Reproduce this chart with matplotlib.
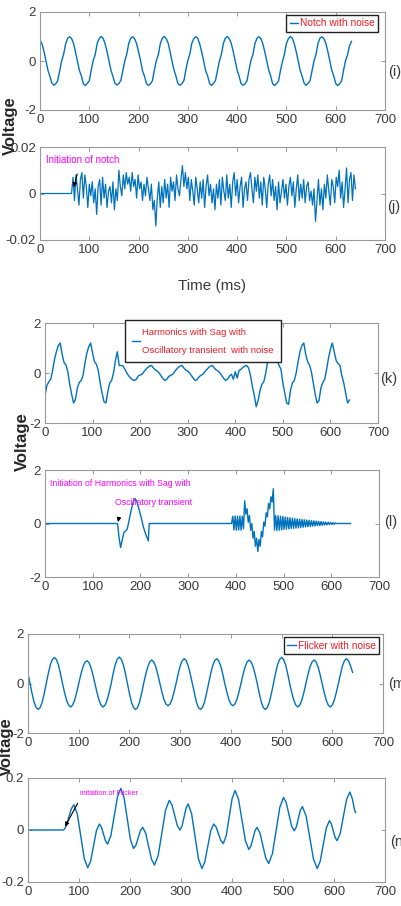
import matplotlib
matplotlib.use('Agg')
import matplotlib.pyplot as plt
import numpy as np

plt.rcParams['font.family'] = ['Liberation Sans Narrow', 'Liberation Sans', 'DejaVu Sans']

# ---- data ----
# (i) notch with noise, one sample every 4 ms from 0 ms
notch_v = [
    .85, .70, .40, .02, -.37, -.62, -.90, -.99, -.93, -.80, -.40, .01, .28, .70, .93, .99,
    .92, .72, .37, -.01, -.39, -.61, -.93, -1.0, -.91, -.81, -.37, .02, .26, .72, .91, 1.0,
    .93, .70, .39, .01, -.38, -.63, -.91, -.98, -.92, -.79, -.39, -.01, .28, .71, .93, .99,
    .91, .71, .36, .02, -.40, -.62, -.92, -1.0, -.93, -.81, -.38, .01, .25, .70, .92, 1.0,
    .92, .73, .38, -.02, -.37, -.63, -.93, -.99, -.92, -.80, -.36, .02, .28, .72, .91, .99,
    .93, .70, .37, .01, -.39, -.60, -.91, -1.0, -.91, -.80, -.39, 0, .27, .71, .93, 1.0,
    .91, .72, .39, 0, -.38, -.62, -.92, -.99, -.93, -.81, -.37, .02, .26, .70, .92, .99,
    .92, .71, .38, .02, -.36, -.61, -.93, -1.0, -.92, -.82, -.38, -.01, .28, .72, .91, 1.0,
    .93, .70, .37, -.01, -.39, -.63, -.91, -.99, -.91, -.80, -.39, .01, .27, .71, .93, .99,
    .91, .72, .39, .01, -.38, -.61, -.92, -1.0, -.93, -.81, -.37, .02, .25, .62, .80,
]
notch_step = 4

# (j) notch component (x 1e-3 V), flat until 64 ms, then one sample every 3 ms
notch_start = 64
notch_noise_mv = [
    0, 7, -3, 8, 2, -5, 6, 9, -2, 8, 3, -6, 4, -1, 5, -4, 2, -9, 3, 6,
    -5, 7, -2, 4, -6, 1, 3, -4, 5, -7, 2, -3, 10, 3, -1, 8, 2, 9, 4, 7,
    1, 9, 3, 6, -2, 8, 2, 5, -3, 4, -1, 7, 2, -3, 4, -7, -3, -14, -2, 5,
    -6, 3, -4, 6, -2, 4, -6, 7, 1, 5, -3, 8, 2, -1, 6, 12, 3, 9, 2, 7,
    -3, 6, 1, -5, 7, 2, -4, 5, -2, 6, -6, 3, 8, -1, 4, -4, 2, -7, 4, -2,
    6, -5, 7, 1, -3, 8, -2, 4, -6, 5, 9, -1, 6, -4, 3, 7, -6, 2, 5, -3,
    6, 9, 2, -4, 7, 1, 8, -2, 5, -5, 7, 2, -6, 4, 8, -1, 6, -3, 3, -7,
    5, -4, 1, 6, -2, 4, -5, 3, 7, -1, 5, -6, 2, 8, -3, 4, -2, 6, -4, 3,
    5, -3, 1, -5, 2, -12, -3, 6, -5, 2, -7, 4, -2, 8, 1, -5, 6, 3, -4, 7,
    3, 10, -2, 5, -6, 2, 11, -4, 6, 9, -3, 8, 2,
]
noise_step = 3

# (k) harmonics with sag with oscillatory transient, one sample every 4 ms
harm_v = [
    -0.9, -0.5, -0.35, -0.25, 0.1, 0.55, 0.85, 1.1, 1.2, 0.75, 0.42, 0.32, 0.05, -0.45, -0.85, -1.2,
    -1.05, -0.6, -0.38, -0.3, -0.1, 0.4, 0.8, 1.05, 1.2, 0.8, 0.45, 0.35, 0.1, -0.4, -0.8, -1.15,
    -1.2, -0.75, -0.4, -0.3, 0.0, 0.5, 0.85, 0.3, 0.3, 0.28, 0.15, 0.0, -0.12, -0.2, -0.27, -0.3,
    -0.25, -0.12, -0.08, -0.05, 0.05, 0.15, 0.22, 0.28, 0.3, 0.2, 0.12, 0.08, 0.0, -0.12, -0.22, -0.3,
    -0.25, -0.14, -0.09, -0.06, 0.04, 0.14, 0.22, 0.28, 0.3, 0.2, 0.11, 0.08, 0.0, -0.11, -0.22, -0.3,
    -0.26, -0.15, -0.09, -0.05, 0.05, 0.14, 0.22, 0.28, 0.3, 0.2, 0.12, 0.08, 0.0, -0.12, -0.22, -0.3,
    -0.24, -0.12, -0.05, -0.25, 0.05, -0.2, 0.1, 0.15, 0.22, 0.28, 0.3, 0.2, -0.1, -0.55, -0.9, -1.35,
    -1.1, -0.7, -0.45, -0.35, 0.0, 0.45, 0.85, 1.15, 1.3, 0.85, 0.5, 0.3, 0.15, -0.4, -0.8, -1.2,
    -1.25, -0.7, -0.4, -0.3, 0.0, 0.45, 0.85, 1.1, 1.2, 0.75, 0.45, 0.32, 0.05, -0.4, -0.85, -1.2,
    -1.1, -0.6, -0.38, -0.25, 0.15, 0.6, 0.95, 1.2, 0.85, 0.5, 0.38, 0.3, -0.1, -0.4, -0.8, -1.2,
    -1.08,
]
harm_step = 4

# (l) transient component, (time ms, voltage) pairs
trans_t = [
    0, 152, 155, 158.5, 162, 165.5, 169, 172.5, 176, 180, 184, 188.5, 192, 197.5, 202, 206, 211,
    216.5, 218.5, 391,
    393.5, 396, 398.5, 401, 403.5, 406, 408.5, 411, 413.5, 416,
    418.5, 421, 423.5, 426, 428.5, 431, 433.5, 436, 438.5, 441, 443.5, 446, 448.5, 451, 453.5,
    456, 458.5, 461, 463.5, 466, 468.5, 471, 473.5, 476, 478.5,
    481, 483.5, 486, 488.5, 491, 493.5, 496, 498.5, 501, 503.5, 506, 508.5, 511, 513.5, 516,
    518.5, 521, 523.5, 526, 528.5, 531, 533.5, 536, 538.5, 541, 543.5, 546, 548.5, 551, 553.5,
    556, 558.5, 561, 563.5, 566, 568.5, 571, 573.5, 576, 578.5, 581, 583.5, 586, 588.5, 591,
    593.5, 596, 598.5, 601, 603.5, 606, 608.5, 611, 640,
]
trans_v = [
    0, 0, -0.5, -0.9, -0.6, -0.33, -0.28, -0.2, 0.1, 0.45, 0.75, 0.93, 0.85, 0.5, 0.2, -0.12, -0.4,
    -0.65, 0, 0,
    0.27, -0.24, 0.28, -0.25, 0.27, -0.24, 0.28, -0.25, 0.27, -0.2,
    0.85, 0.35, 0.55, 0.05, 0.3, -0.25, 0.0, -0.55, -0.3, -0.85, -0.55, -1.05, -0.6, -0.85, -0.3,
    -0.5, 0.05, -0.1, 0.4, 0.25, 0.75, 0.55, 1.0, 0.8, 1.3,
    -0.25, 0.3, -0.26, 0.29, -0.25, 0.27, -0.24, 0.26, -0.22, 0.24, -0.21, 0.23, -0.2, 0.21, -0.19,
    0.2, -0.18, 0.18, -0.17, 0.17, -0.16, 0.16, -0.15, 0.15, -0.14, 0.14, -0.13, 0.13, -0.12, 0.12,
    -0.11, 0.11, -0.1, 0.1, -0.09, 0.09, -0.08, 0.08, -0.075, 0.07, -0.065, 0.06, -0.055, 0.05, -0.05,
    0.045, -0.04, 0.04, -0.035, 0.03, -0.03, 0.02, 0, 0,
]

# (m) flicker with noise, one sample every 4 ms
flick_v = [
    .40, 0, -.40, -.75, -.97, -1.05, -.97, -.75, -.40, 0, .40, .75, .97, 1.05, .97, .75,
    .40, 0, -.36, -.67, -.87, -.95, -.87, -.67, -.36, 0, .35, .65, .85, .92, .85, .65,
    .35, 0, -.36, -.67, -.87, -.95, -.87, -.67, -.36, 0, .41, .76, .98, 1.07, .98, .76,
    .41, 0, -.40, -.75, -.97, -1.05, -.97, -.75, -.40, 0, .36, .67, .87, .95, .87, .67,
    .36, 0, -.34, -.64, -.83, -.90, -.83, -.64, -.34, 0, .38, .71, .92, 1.0, .92, .71,
    .38, 0, -.40, -.75, -.97, -1.05, -.97, -.75, -.40, 0, .38, .71, .92, 1.0, .92, .71,
    .38, 0, -.34, -.64, -.83, -.90, -.83, -.64, -.34, 0, .36, .67, .87, .95, .87, .67,
    .36, 0, -.40, -.75, -.97, -1.05, -.97, -.75, -.40, 0, .40, .75, .97, 1.05, .97, .75,
    .40, 0, -.36, -.67, -.87, -.95, -.87, -.67, -.36, 0, .36, .67, .87, .95, .87, .67,
    .36, 0, -.36, -.67, -.87, -.95, -.87, -.67, -.36, 0, .38, .71, .92, 1.0, .92, .71,
    .45,
]
flick_step = 4

# (n) flicker component, (time ms, voltage) pairs
fcomp_t = [
    0, 70, 75, 80, 85, 90, 96.75, 103.5, 110.25, 117, 122.75, 128.5, 134.25, 140, 144, 148, 152,
    156, 162.5, 169, 175.5, 182, 188.25, 194.5, 200.75, 207, 211.5, 216, 220.5, 225, 230.75,
    236.5, 242.25, 248, 255.25, 262.5, 269.75, 277, 282.25, 287.5, 292.75, 298, 302, 306, 310,
    314, 320.75, 327.5, 334.25, 341, 346.75, 352.5, 358.25, 364, 368.75, 373.5, 378.25, 383,
    388.75, 394.5, 400.25, 406, 412.75, 419.5, 426.25, 433, 437, 441, 445, 449, 454.75, 460.5,
    466.25, 472, 479.25, 486.5, 493.75, 501, 506.25, 511.5, 516.75, 522, 526, 530, 534, 538,
    545.25, 552.5, 559.75, 567, 573, 579, 585, 591, 594.75, 598.5, 602.25, 606, 612.25, 618.5,
    624.75, 631, 636, 640, 642,
]
fcomp_v = [
    0, 0, .015, .049, .082, .097, .061, -.024, -.109, -.145, -.120, -.061, -.002, .023, .011, -.016, -.042,
    -.054, -.022, .053, .128, .160, .125, .045, -.036, -.071, -.059, -.031, -.002, .010, -.012,
    -.063, -.113, -.135, -.098, -.011, .077, .114, .097, .057, .017, 0, .015, .050, .085,
    .100, .063, -.024, -.111, -.148, -.122, -.063, -.003, .023, .012, -.015, -.041, -.052,
    -.021, .050, .121, .152, .118, .039, -.041, -.075, -.062, -.033, -.003, .010, -.011, -.060,
    -.108, -.129, -.091, -.002, .087, .125, .106, .061, .016, -.003, .011, .044, .076, .090,
    .054, -.029, -.112, -.148, -.120, -.056, .008, .036, .024, -.003, -.029, -.041, -.013, .053,
    .118, .146, .120, .080, .067,
]

xticks = [0, 100, 200, 300, 400, 500, 600, 700]

BLUE = '#0072BD'
MAGENTA = '#ff00ff'
RED = '#ee1c25'
TXT = '#3a3a3a'

W, H = 401, 906
fig = plt.figure(figsize=(W / 100, H / 100), dpi=100)


def box(x0, y0, x1, y1):
    # pixel box (top-left origin) -> figure fraction rect
    return [x0 / W, 1 - y1 / H, (x1 - x0) / W, (y1 - y0) / H]


def fx(x, y):
    return x / W, 1 - y / H


def style(ax, lim, ticks, labels):
    ax.set_xlim(0, 700)
    ax.set_xticks(xticks)
    ax.set_ylim(-lim, lim)
    ax.set_yticks(ticks)
    ax.set_yticklabels(labels)
    ax.tick_params(direction='in', length=3, width=0.6, top=True, right=True,
                   color='#888888', labelcolor=TXT, labelsize=9.5, pad=3)
    for s in ax.spines.values():
        s.set_color('#999999')
        s.set_linewidth(0.8)


def legend(ax, loc, anchor, size, spacing=1.2, pad=0.35):
    leg = ax.legend(loc=loc, bbox_to_anchor=anchor, fontsize=size, labelcolor=RED,
                    fancybox=False, edgecolor='#222222', framealpha=1,
                    handlelength=0.8, handletextpad=0.2, borderpad=pad,
                    borderaxespad=0)
    leg.get_frame().set_linewidth(1.0)
    for t in leg.get_texts():
        t.set_linespacing(spacing)


# (i)
ax = fig.add_axes(box(40, 12, 385, 110))
ax.plot(np.arange(len(notch_v)) * notch_step, notch_v, color=BLUE, lw=1.0, label='Notch with noise')
style(ax, 2, [-2, 0, 2], ['-2', '0', '2'])
legend(ax, 'upper right', (0.98, 0.97), 7.3)

# (j)
ax = fig.add_axes(box(40, 147, 385, 240))
jt = np.concatenate([[0], notch_start + np.arange(len(notch_noise_mv)) * noise_step])
jv = np.concatenate([[0], np.array(notch_noise_mv) * 1e-3])
ax.plot(jt, jv, color=BLUE, lw=0.9)
style(ax, 0.02, [-0.02, 0, 0.02], ['-0.02', '0', '0.02'])
ax.text(12, 0.0144, 'Initiation of notch', color=MAGENTA, fontsize=7, va='center', ha='left')
ax.annotate('', xy=(67, 0.0015), xytext=(77, 0.0095),
            arrowprops=dict(arrowstyle='-|>', color='black', lw=0.8, mutation_scale=6))

# (k)
ax = fig.add_axes(box(45, 323, 378, 423))
ax.plot(np.arange(len(harm_v)) * harm_step, harm_v, color=BLUE, lw=1.0,
        label='Harmonics with Sag with\nOscillatory transient  with noise')
style(ax, 2, [-2, 0, 2], ['-2', '0', '2'])
legend(ax, 'upper left', (0.24, 1.03), 6.8, spacing=2.3, pad=0.8)

# (l)
ax = fig.add_axes(box(45, 470, 379, 577))
ax.plot(trans_t, trans_v, color=BLUE, lw=1.0)
style(ax, 2, [-2, 0, 2], ['-2', '0', '2'])
ax.text(10, 1.51, 'Initiation of Harmonics with Sag with', color=MAGENTA, fontsize=6.3,
        va='center', ha='left')
ax.text(147, 0.77, 'Oscillatory transient', color=MAGENTA, fontsize=6.3, va='center', ha='left')
ax.annotate('', xy=(152, -0.05), xytext=(156, 0.32),
            arrowprops=dict(arrowstyle='-|>', color='black', lw=0.8, mutation_scale=6))

# (m)
ax = fig.add_axes(box(28, 634, 383, 733))
ax.plot(np.arange(len(flick_v)) * flick_step, flick_v, color=BLUE, lw=1.0, label='Flicker with noise')
style(ax, 2, [-2, 0, 2], ['-2', '0', '2'])
legend(ax, 'upper right', (0.989, 0.97), 7.3)

# (n)
ax = fig.add_axes(box(28, 778, 385, 882))
ax.plot(fcomp_t, fcomp_v, color=BLUE, lw=1.0)
style(ax, 0.2, [-0.2, 0, 0.2], ['-0.2', '0', '0.2'])
ax.text(102, 0.142, 'initiation of Flicker', color=MAGENTA, fontsize=5.2, va='center', ha='left')
ax.annotate('', xy=(70, 0.004), xytext=(100, 0.112),
            arrowprops=dict(arrowstyle='-|>', color='black', lw=0.8, mutation_scale=6))

# side labels
for txt, (x, y) in [('(i)', (388, 72)), ('(j)', (387, 207)), ('(k)', (380, 379)),
                    ('(l)', (384, 522)), ('(m', (388, 684)), ('(n', (390, 842))]:
    fig.text(*fx(x, y), txt, fontsize=10.5, color=TXT, va='center', ha='left')

for x, y in [(10, 126), (22, 442), (6, 747)]:
    fig.text(*fx(x, y), 'Voltage', rotation=90, fontsize=12, fontweight='bold',
             family=['Liberation Sans', 'DejaVu Sans'], color='#262626', va='center', ha='center')

fig.text(*fx(212, 286), 'Time (ms)', fontsize=11, color=TXT, va='center', ha='center')

fig.savefig('out.png', dpi=100)
